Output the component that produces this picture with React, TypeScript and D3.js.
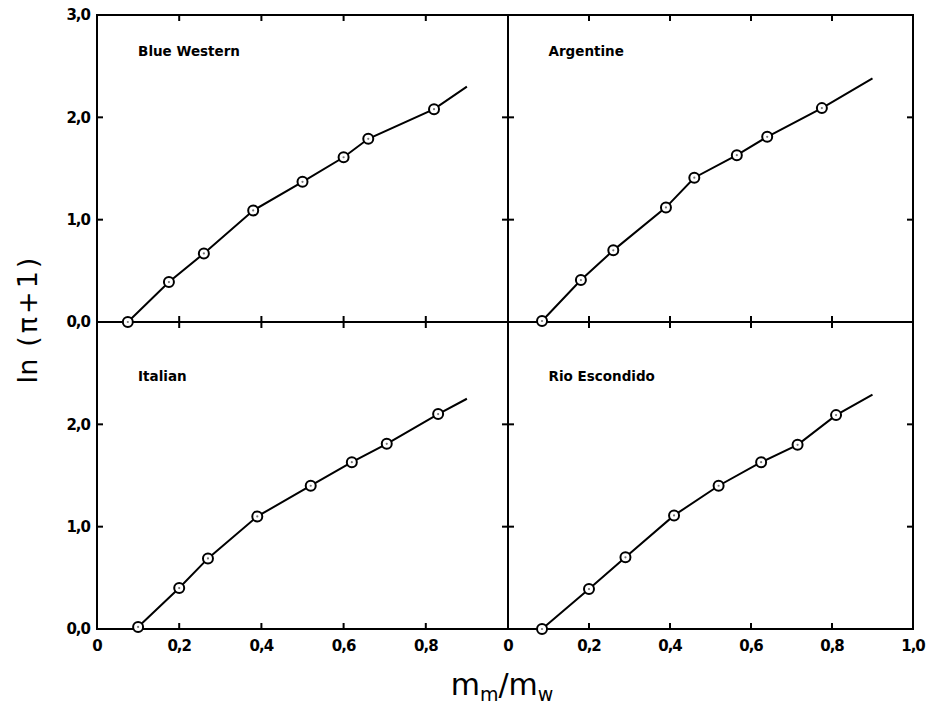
import React from 'react';
import * as d3 from 'd3';

// Mass fraction m_m/m_w and ln(pi+1), one pair of arrays per coal
const blueWesternX = [0.075, 0.175, 0.26, 0.38, 0.50, 0.60, 0.66, 0.82];
const blueWesternY = [0.0, 0.39, 0.67, 1.09, 1.37, 1.61, 1.79, 2.08];
const blueWesternEnd = [0.90, 2.30];

const argentineX = [0.084, 0.18, 0.26, 0.39, 0.46, 0.565, 0.64, 0.775];
const argentineY = [0.01, 0.41, 0.70, 1.12, 1.41, 1.63, 1.81, 2.09];
const argentineEnd = [0.90, 2.38];

const italianX = [0.10, 0.20, 0.27, 0.39, 0.52, 0.62, 0.705, 0.83];
const italianY = [0.02, 0.40, 0.69, 1.10, 1.40, 1.63, 1.81, 2.10];
const italianEnd = [0.90, 2.25];

const rioX = [0.084, 0.20, 0.29, 0.41, 0.52, 0.625, 0.715, 0.81];
const rioY = [0.0, 0.39, 0.70, 1.11, 1.40, 1.63, 1.80, 2.09];
const rioEnd = [0.90, 2.29];

const xTicks = [0.2, 0.4, 0.6, 0.8];
const xTickLabelsLeft = ['0', '0,2', '0,4', '0,6', '0,8'];
const xTickLabelsRight = ['0', '0,2', '0,4', '0,6', '0,8', '1,0'];
const yTicks = [1, 2];
const yTickLabelsTop = ['0,0', '1,0', '2,0', '3,0'];
const yTickLabelsBottom = ['0,0', '1,0', '2,0'];

const W = 926;
const H = 711;
const FONT = '"DejaVu Sans", Arial, sans-serif';

const xLeft = d3.scaleLinear().domain([0, 1]).range([97, 508]);
const xRight = d3.scaleLinear().domain([0, 1]).range([508, 913]);
const yTop = d3.scaleLinear().domain([0, 3]).range([322, 15]);
const yBottom = d3.scaleLinear().domain([0, 3]).range([629, 322]);

function Panel({ xs, ys, end, x, y, title, titleY }) {
  const pts = xs.map((v, i) => [v, ys[i]]);
  const line = d3.line().x(d => x(d[0])).y(d => y(d[1]));
  return (
    <g>
      <path d={line([...pts, end])} fill="none" stroke="#000" strokeWidth={2} />
      {pts.map((d, i) => (
        <g key={i}>
          <circle cx={x(d[0])} cy={y(d[1])} r={5} fill="#fff" stroke="#000" strokeWidth={2} />
          <circle cx={x(d[0])} cy={y(d[1])} r={1.1} fill="#777" />
        </g>
      ))}
      <text x={x(0.1)} y={y(titleY)} fontFamily={FONT} fontWeight="bold" fontSize={13.5}>{title}</text>
    </g>
  );
}

export default function App() {
  const left = xLeft(0), mid = xLeft(1), right = xRight(1);
  const top = yTop(3), midY = yTop(0), bottom = yBottom(0);
  const tk = 6;
  return (
    <svg width={W} height={H} style={{ position: 'absolute', left: 0, top: 0, background: '#fff' }}>
      <rect x={0} y={0} width={W} height={H} fill="#fff" />
      {/* frame and dividers */}
      <g stroke="#000" strokeWidth={2} fill="none">
        <rect x={left} y={top} width={right - left} height={bottom - top} />
        <line x1={mid} x2={mid} y1={top} y2={bottom} />
        <line x1={left} x2={right} y1={midY} y2={midY} />
        {[xLeft, xRight].map((sx, j) =>
          xTicks.map(t => (
            <g key={`${j}-${t}`}>
              <line x1={sx(t)} x2={sx(t)} y1={top} y2={top + tk} />
              <line x1={sx(t)} x2={sx(t)} y1={midY - tk} y2={midY + tk} />
              <line x1={sx(t)} x2={sx(t)} y1={bottom} y2={bottom - tk} />
            </g>
          ))
        )}
        {[yTop, yBottom].map((sy, j) =>
          yTicks.map(t => (
            <g key={`${j}-${t}`}>
              <line x1={left} x2={left + tk} y1={sy(t)} y2={sy(t)} />
              <line x1={mid - tk} x2={mid + tk} y1={sy(t)} y2={sy(t)} />
              <line x1={right} x2={right - tk} y1={sy(t)} y2={sy(t)} />
            </g>
          ))
        )}
      </g>
      {/* tick labels */}
      <g fontFamily={FONT} fontWeight="bold" fontSize={15} letterSpacing={-1}>
        {yTickLabelsTop.map((l, i) => (
          <text key={`yt${i}`} x={left - 7} y={yTop(i)} dy="0.35em" textAnchor="end">{l}</text>
        ))}
        {yTickLabelsBottom.map((l, i) => (
          <text key={`yb${i}`} x={left - 7} y={yBottom(i)} dy="0.35em" textAnchor="end">{l}</text>
        ))}
        {xTickLabelsLeft.map((l, i) => (
          <text key={`xl${i}`} x={xLeft(i * 0.2)} y={bottom + 22} textAnchor="middle">{l}</text>
        ))}
        {xTickLabelsRight.map((l, i) => (
          <text key={`xr${i}`} x={xRight(i * 0.2)} y={bottom + 22} textAnchor="middle">{l}</text>
        ))}
      </g>
      <Panel xs={blueWesternX} ys={blueWesternY} end={blueWesternEnd} x={xLeft} y={yTop} title="Blue Western" titleY={2.6} />
      <Panel xs={argentineX} ys={argentineY} end={argentineEnd} x={xRight} y={yTop} title="Argentine" titleY={2.6} />
      <Panel xs={italianX} ys={italianY} end={italianEnd} x={xLeft} y={yBottom} title="Italian" titleY={2.42} />
      <Panel xs={rioX} ys={rioY} end={rioEnd} x={xRight} y={yBottom} title="Rio Escondido" titleY={2.42} />
      {/* axis titles */}
      <text transform={`translate(37,${midY - 3}) rotate(-90)`} textAnchor="middle" fontFamily={FONT} fontSize={27}>
        <tspan>ln</tspan><tspan dx={12} letterSpacing={3}>(π+1)</tspan>
      </text>
      <text x={mid - 6} y={695} textAnchor="middle" fontFamily={FONT} fontSize={30}>
        m<tspan fontSize={19} dy={6}>m</tspan><tspan dy={-6}>/m</tspan><tspan fontSize={19} dy={6}>w</tspan>
      </text>
    </svg>
  );
}
